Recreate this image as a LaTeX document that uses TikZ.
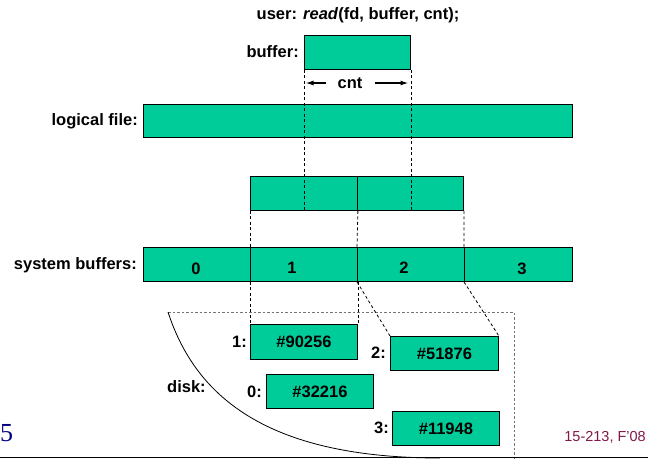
\documentclass[tikz,border=0pt]{standalone}
\usepackage{fontspec}
\usetikzlibrary{arrows.meta}
\setmainfont{Liberation Sans}
\newfontfamily\serifnum{Liberation Serif}
\definecolor{boxfill}{RGB}{0,204,153}
\definecolor{footred}{RGB}{128,24,72}
\definecolor{navyblue}{RGB}{0,0,128}
\tikzset{
  blk/.style={draw=black, fill=boxfill, line width=0.9pt, inner sep=0pt, minimum height=34pt},
  lbl/.style={font=\fontsize{16.5}{18}\selectfont\bfseries, inner sep=0pt, anchor=east},
  numlbl/.style={font=\fontsize{16.5}{18}\selectfont\bfseries, inner sep=0pt},
  dline/.style={draw=black, dash pattern=on 3pt off 2.5pt, line width=0.8pt},
  dotgray/.style={draw=black!55, dash pattern=on 2.5pt off 2pt, line width=0.9pt},
  cntarrow/.style={-{Latex[length=8pt,width=5pt]}, line width=1.4pt},
}
\begin{document}
\begin{tikzpicture}[x=1pt,y=-1pt]
\useasboundingbox (0,0) rectangle (648,459);
% title
\node[numlbl] (title) at (358,15) {user: \textit{read}(fd, buffer, cnt);};
% buffer
\node[blk, minimum width=106pt, anchor=north west] (buf) at (304,35) {};
\node[lbl] (buflbl) at (299,52) {buffer:};
% cnt
\node[numlbl] (cnt) at (350,83) {cnt};
\coordinate (cl) at (305.5,83);
\coordinate (cr) at (408.5,83);
\draw[cntarrow] (cnt.west) ++(-11,0) -- (cl);
\draw[cntarrow] (cnt.east) ++(12,0) -- (cr);
% logical file
\node[blk, minimum width=429pt, minimum height=33pt, anchor=north west] (lf) at (143,104) {};
\node[lbl] (lflbl) at (138,121) {logical file:};
% middle boxes
\node[blk, minimum width=107pt, anchor=north west] (m1) at (250,176) {};
\node[blk, minimum width=106pt, anchor=north west] (m2) at (357,176) {};
% system buffers
\node[blk, minimum width=107pt, anchor=north west] (s0) at (143,247) {};
\node[blk, minimum width=107pt, anchor=north west] (s1) at (250,247) {};
\node[blk, minimum width=107pt, anchor=north west] (s2) at (357,247) {};
\node[blk, minimum width=108pt, anchor=north west] (s3) at (464,247) {};
\node[numlbl] (n0) at (196,269) {0};
\node[numlbl] (n1) at (292,268) {1};
\node[numlbl] (n2) at (404,268) {2};
\node[numlbl] (n3) at (522,269) {3};
\node[lbl] (sblbl) at (137,265) {system buffers:};
% disk region
\coordinate (dtl) at (168,312);
\coordinate (dtr) at (514,312);
\coordinate (dbr) at (514,459);
\coordinate (cend) at (440,458);
\draw[dotgray] (dtl) -- (dtr) -- (dbr);
\draw[line width=0.8pt] (dtl) .. controls (195,395) and (265,458) .. (cend);
\node[lbl, anchor=west] (disk) at (167,387) {disk:};
% disk blocks
\node[blk, minimum width=107pt, minimum height=35pt, anchor=north west] (d1) at (250,324) {\fontsize{16.5}{18}\selectfont\bfseries \#90256};
\node[lbl] (l1) at (247,342) {1:};
\node[blk, minimum width=108pt, anchor=north west] (d2) at (390,336) {\fontsize{16.5}{18}\selectfont\bfseries \#51876};
\node[lbl] (l2) at (386,353) {2:};
\node[blk, minimum width=107pt, anchor=north west] (d0) at (266,374) {\fontsize{16.5}{18}\selectfont\bfseries \#32216};
\node[lbl] (l0) at (262,392) {0:};
\node[blk, minimum width=107pt, anchor=north west] (d3) at (392,411) {\fontsize{16.5}{18}\selectfont\bfseries \#11948};
\node[lbl] (l3) at (389,428) {3:};
% dashed connectors
\draw[dline] (buf.south west) -- (buf.south west |- m1.south);
\draw[dline] (buf.south east) -- (buf.south east |- m1.south);
\draw[dline] (m1.south west) -- (s1.north west);
\draw[dline] (m1.south east) -- (s2.north west);
\draw[dline] (m2.south east) -- (s3.north west);
\draw[dline] (s1.south west) -- (d1.north west);
\draw[dline] (s1.south east) -- (d1.north east);
\draw[dline] (s2.south west) -- (d2.north west);
\draw[dline] (s3.south west) -- (d2.north east);
% footer
\coordinate (bl) at (0,457.5);
\coordinate (br) at (648,457.5);
\draw[line width=1.8pt] (bl) -- (br);
\node[inner sep=0pt, anchor=south west, text=navyblue, font=\serifnum\fontsize{26}{28}\selectfont] (pg) at (0,442) {5};
\node[inner sep=0pt, anchor=east, text=footred, font=\fontsize{14.5}{16}\selectfont] (foot) at (646,437) {15-213, F'08};
\end{tikzpicture}
\end{document}
